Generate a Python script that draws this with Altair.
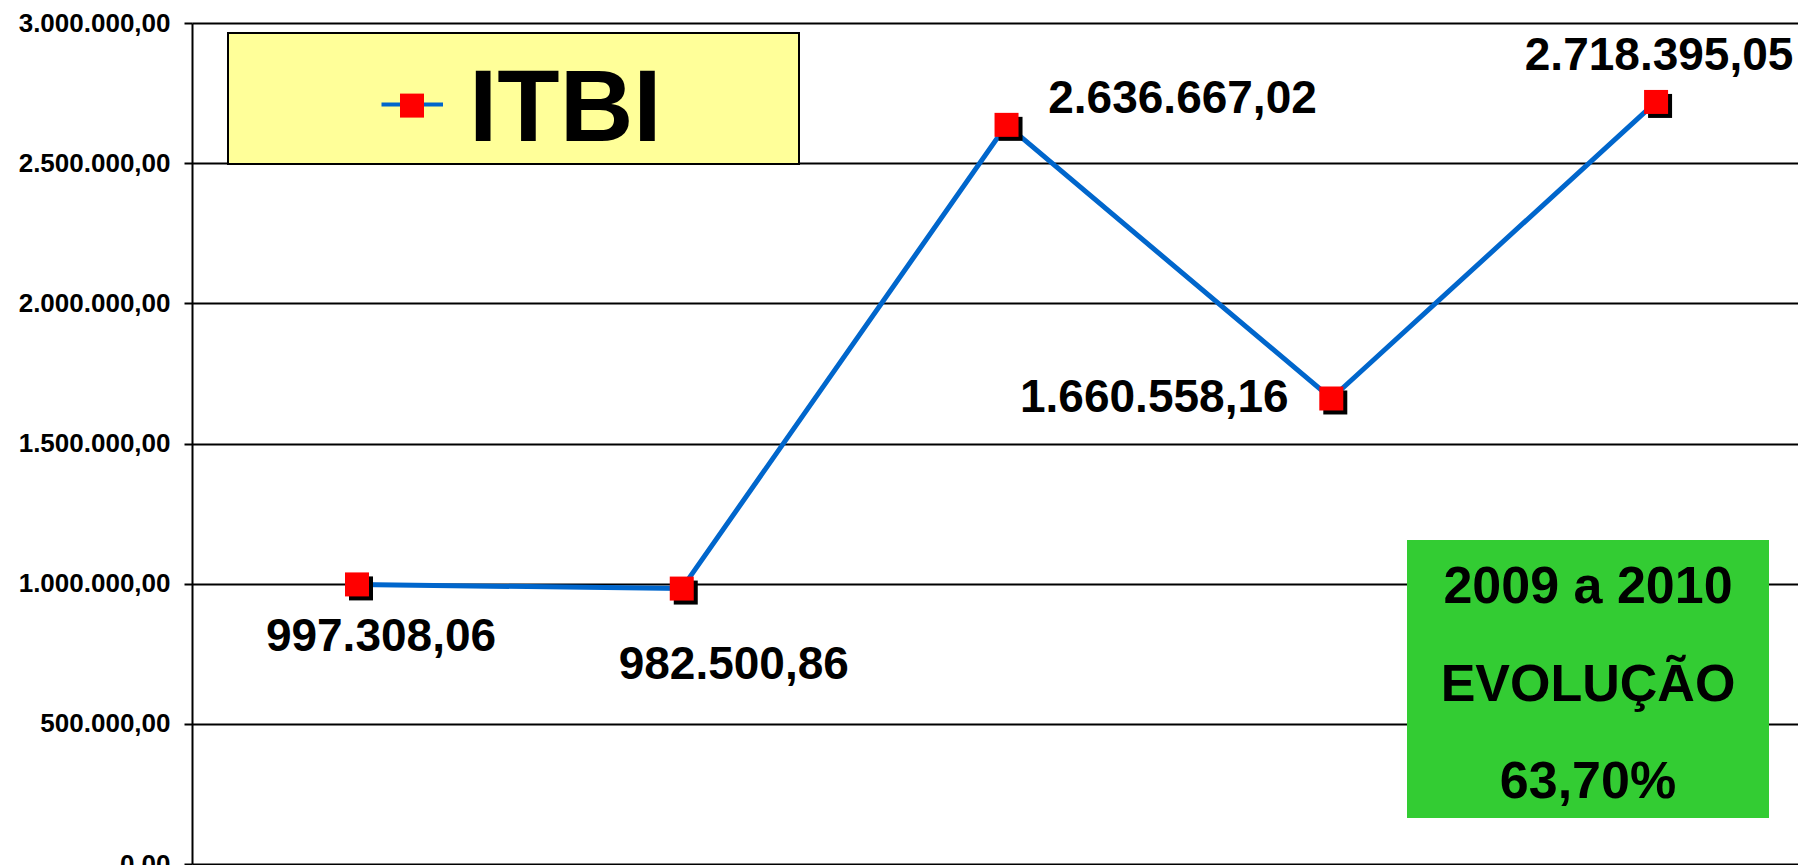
import json
import altair as alt
import pandas as pd

# ---- data ----
years = ["2006", "2007", "2008", "2009", "2010"]
values = [997308.06, 982500.86, 2636667.02, 1660558.16, 2718395.05]
y_ticks = [0, 500000, 1000000, 1500000, 2000000, 2500000, 3000000]
legend_label = "ITBI"
box_lines = ["2009 a 2010", "EVOLUÇÃO", "63,70%"]

df = pd.DataFrame({"ano": years, "valor": values})
one = pd.DataFrame({"k": [0]})

FONT = "Liberation Sans"
BLUE = "#0066CC"
RED = "#FF0000"

# pt-BR number format: 1.234.567,89
BR = ("replace(replace(replace(format({v}, ',.2f'), regexp(',', 'g'), '_'), "
      "regexp('[.]', 'g'), ','), regexp('_', 'g'), '.')")

# category position (0..4) on a linear scale, so the grid spans the whole plot
x_enc = alt.X("pos:Q", scale=alt.Scale(domain=[-0.508, 4.437], nice=False, zero=False), axis=None)
y_enc = alt.Y(
    "valor:Q",
    title=None,
    scale=alt.Scale(domain=[0, 3000000], nice=False, zero=True),
    axis=alt.Axis(
        values=y_ticks,
        labelExpr=BR.format(v="datum.value"),
        labelFont=FONT,
        labelFontSize=26,
        labelFontWeight="bold",
        labelColor="black",
        labelPadding=14,
        labelOverlap=False,
        labelFlush=False,
        tickSize=8,
        tickColor="black",
        tickWidth=2,
        domain=True,
        domainColor="black",
        domainWidth=2,
        grid=True,
        gridColor="black",
        gridWidth=2,
    ),
)

base = (
    alt.Chart(df)
    .transform_calculate(pos=f"indexof({json.dumps(years)}, datum.ano)")
    .encode(x=x_enc, y=y_enc)
)

line = base.mark_line(color=BLUE, strokeWidth=5)

shadow_path = "M-0.667,-0.667L1.333,-0.667L1.333,1.333L-0.667,1.333Z"
shadow = base.mark_point(shape=shadow_path, filled=True, color="black", size=576, opacity=1)
squares = base.mark_square(color=RED, size=576, opacity=1)

# label offsets (style) per year
offsets = {
    "2006": (24, 67),
    "2007": (52, 90),
    "2008": (176, -12),
    "2009": (-177, 14),
    "2010": (3, -32),
}
labels = []
for yr in years:
    dx, dy = offsets[yr]
    labels.append(
        base.transform_filter(alt.datum.ano == yr)
        .transform_calculate(lbl=BR.format(v="datum.valor"))
        .mark_text(font=FONT, fontSize=46, fontWeight="bold", color="black",
                   align="center", baseline="alphabetic", dx=dx, dy=dy)
        .encode(text="lbl:N")
    )

# legend box (annotation)
ann = alt.Chart(one)
leg_box = ann.mark_rect(fill="#FFFF99", stroke="black", strokeWidth=2).encode(
    x=alt.value(36), x2=alt.value(607), y=alt.value(10), y2=alt.value(141))
leg_line = ann.mark_rule(color=BLUE, strokeWidth=4).encode(
    x=alt.value(189.5), x2=alt.value(251), y=alt.value(81.5))
leg_sq = ann.mark_square(color=RED, size=576, opacity=1).encode(
    x=alt.value(220), y=alt.value(82.6))
leg_txt = ann.mark_text(font=FONT, fontSize=102, fontWeight="bold", color="black",
                        align="left", baseline="alphabetic").encode(
    x=alt.value(277), y=alt.value(118.4), text=alt.value(legend_label))

# green evolution box
g_box = ann.mark_rect(fill="#33CC33").encode(
    x=alt.value(1215), x2=alt.value(1577), y=alt.value(517), y2=alt.value(795))
g_txts = []
for txt, yy in zip(box_lines, [580, 678.4, 775]):
    g_txts.append(
        ann.mark_text(font=FONT, fontSize=52, fontWeight="bold", color="black",
                      align="center", baseline="alphabetic").encode(
            x=alt.value(1396), y=alt.value(yy), text=alt.value(txt))
    )

chart = alt.layer(
    line, shadow, squares, *labels,
    leg_box, leg_line, leg_sq, leg_txt,
    g_box, *g_txts,
).properties(
    width=1606,
    height=841,
    autosize=alt.AutoSizeParams(type="none"),
    padding={"left": 184, "top": 15, "right": 0, "bottom": 2},
    background="white",
).configure_view(stroke=None)

chart.save("out.html", embed_options={"renderer": "svg", "actions": False})
